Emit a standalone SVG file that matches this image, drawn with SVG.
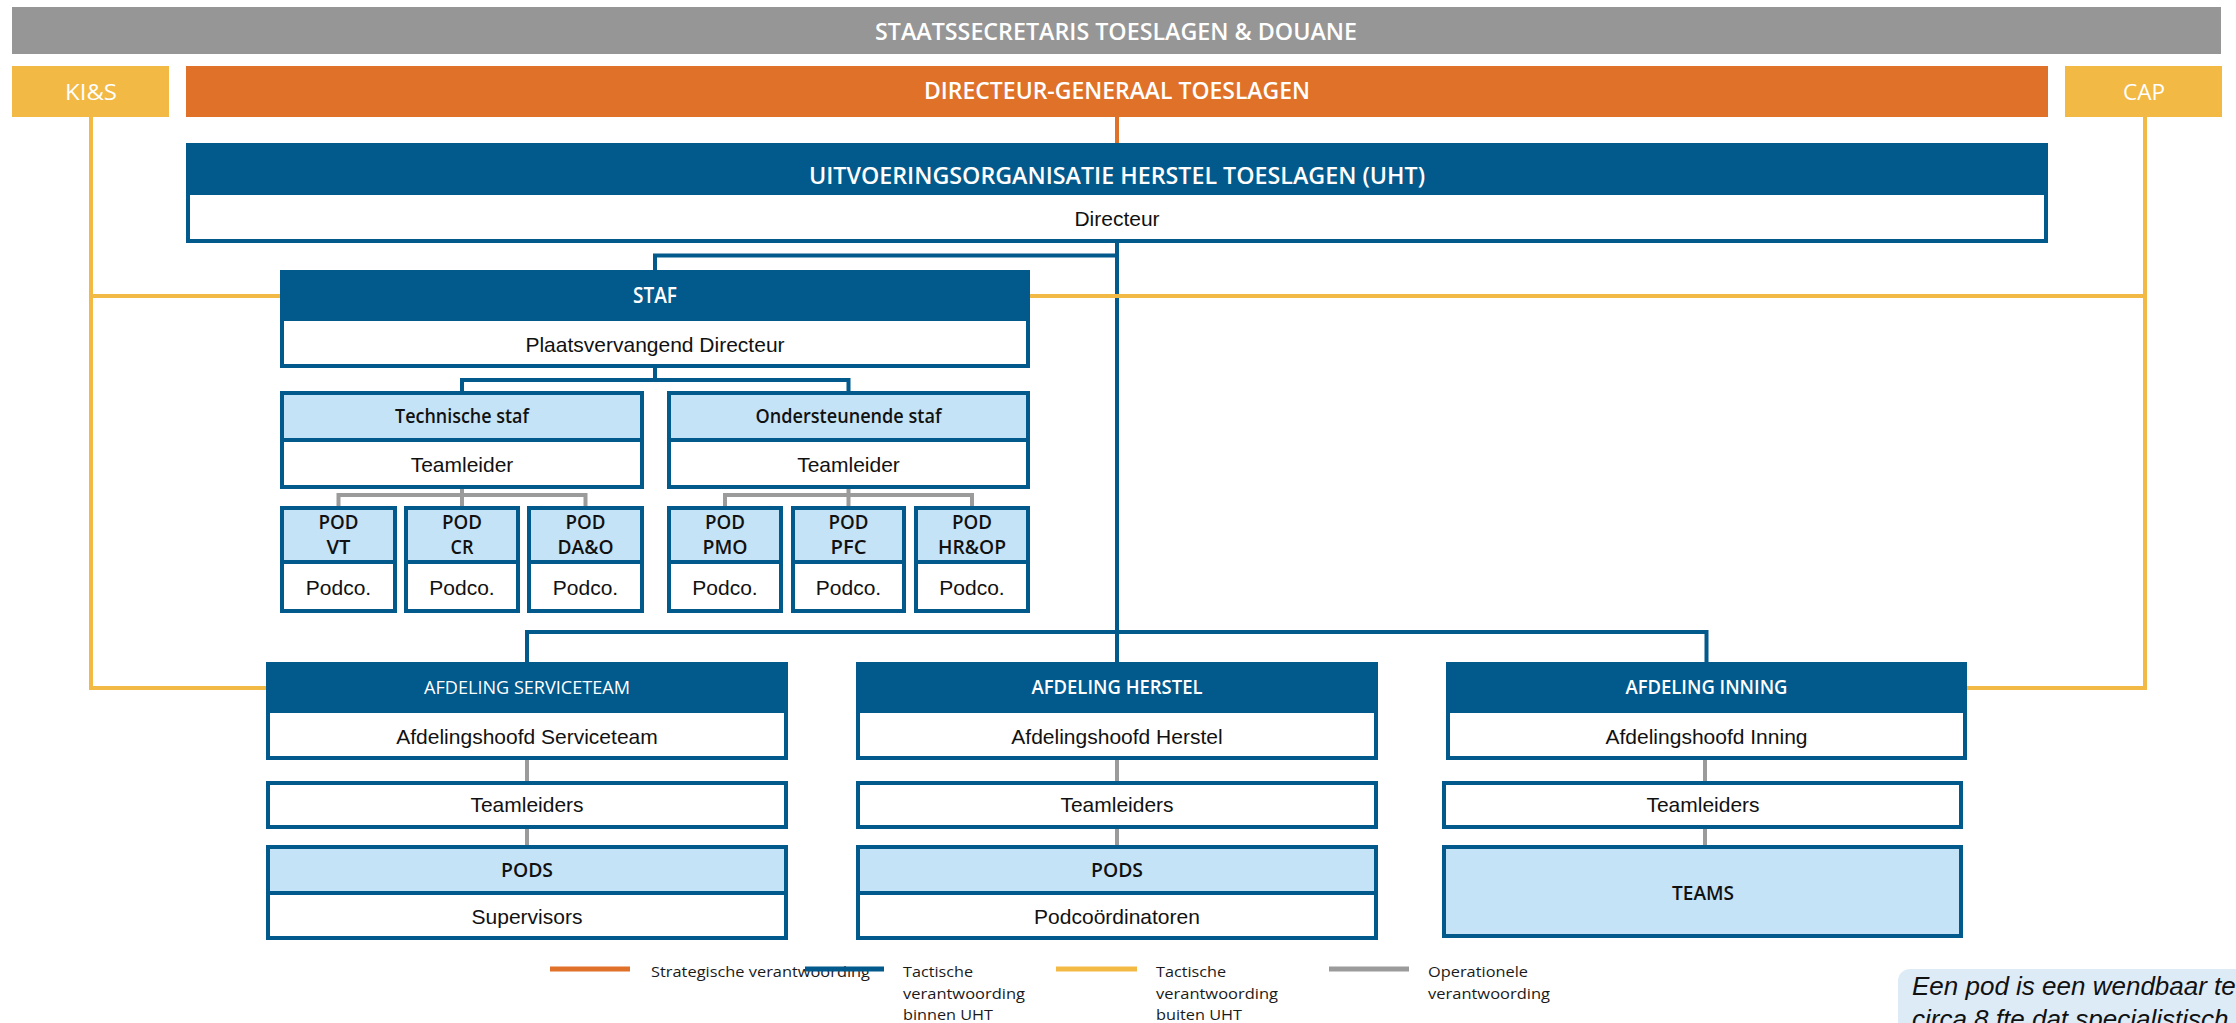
<svg xmlns="http://www.w3.org/2000/svg" width="2236" height="1023" viewBox="0 0 2236 1023">
<style>
.hd{font-family:"Open Sans","Noto Sans",sans-serif;font-weight:600;fill:#ffffff;text-anchor:middle}
.hl{font-family:"Open Sans","Noto Sans",sans-serif;font-weight:400;fill:#ffffff;text-anchor:middle}
.hk{font-family:"Open Sans","Noto Sans",sans-serif;font-weight:600;fill:#111111;text-anchor:middle}
.bd{font-family:"Liberation Sans",Arial,sans-serif;font-size:21px;fill:#111111;text-anchor:middle}
.lg{font-family:"Open Sans","Noto Sans",sans-serif;font-size:15px;fill:#1a1a1a}
.wb{fill:#ffffff;stroke:#01598C;stroke-width:4}
.lb{fill:#C5E3F6;stroke:#01598C;stroke-width:4}
.db{fill:#01598C}
.cb{fill:none;stroke:#01598C;stroke-width:4}
.cy{fill:none;stroke:#F2B945;stroke-width:4}
.cg{fill:none;stroke:#9B9B9B;stroke-width:4}
.co{fill:none;stroke:#E07128;stroke-width:4}
</style>

<g id="connectors">
  <path class="co" d="M1117,117 V143"/>
  <path class="cb" d="M1117,243 V662 M1117,255.5 H655 V270"/>
  <path class="cb" d="M655,368 V380 M462,391 V380 H848.5 V391"/>
  <path class="cb" d="M527,662 V632 H1706.5 V662"/>
  <path class="cy" d="M91,117 V688 H266 M91,296 H280"/>
  <path class="cy" d="M2145,117 V688 H1967 M1030,296 H2145"/>
  <path class="cg" d="M462,489 V506 M338.5,506 V495 H585.5 V506"/>
  <path class="cg" d="M848.5,489 V506 M725,506 V495 H972 V506"/>
  <path class="cg" d="M527,760 V781 M527,829 V845"/>
  <path class="cg" d="M1117,760 V781 M1117,829 V845"/>
  <path class="cg" d="M1705,760 V781 M1705,829 V845"/>
</g>

<g id="staatssecretaris">
  <rect x="12" y="7" width="2209" height="47" fill="#969696"/>
  <text class="hd" x="1116" y="39.5" font-size="24" textLength="482" lengthAdjust="spacingAndGlyphs">STAATSSECRETARIS TOESLAGEN &amp; DOUANE</text>
</g>

<g id="kis">
  <rect x="12" y="66" width="157" height="51" fill="#F2B945"/>
  <text class="hl" x="91" y="100" font-size="22" textLength="52" lengthAdjust="spacingAndGlyphs">KI&amp;S</text>
</g>

<g id="dg">
  <rect x="186" y="66" width="1862" height="51" fill="#E07128"/>
  <text class="hd" x="1117" y="99" font-size="23" textLength="386" lengthAdjust="spacingAndGlyphs">DIRECTEUR-GENERAAL TOESLAGEN</text>
</g>

<g id="cap">
  <rect x="2065" y="66" width="157" height="51" fill="#F2B945"/>
  <text class="hl" x="2144" y="100" font-size="22" textLength="42" lengthAdjust="spacingAndGlyphs">CAP</text>
</g>

<g id="uht">
  <rect class="wb" x="188" y="145" width="1858" height="96"/>
  <rect class="db" x="186" y="143" width="1862" height="52"/>
  <text class="hd" x="1117" y="184" font-size="23" textLength="616" lengthAdjust="spacingAndGlyphs">UITVOERINGSORGANISATIE HERSTEL TOESLAGEN (UHT)</text>
  <text class="bd" x="1117" y="226">Directeur</text>
</g>

<g id="staf">
  <rect class="wb" x="282" y="272" width="746" height="94"/>
  <rect class="db" x="280" y="270" width="750" height="51"/>
  <text class="hd" x="655" y="303" font-size="21" textLength="44" lengthAdjust="spacingAndGlyphs">STAF</text>
  <text class="bd" x="655" y="352">Plaatsvervangend Directeur</text>
</g>

<g id="technische-staf">
  <rect class="wb" x="282" y="393" width="360" height="94"/>
  <rect class="lb" x="282" y="393" width="360" height="47"/>
  <text class="hk" x="462" y="423" font-size="19" textLength="134" lengthAdjust="spacingAndGlyphs">Technische staf</text>
  <text class="bd" x="462" y="472">Teamleider</text>
</g>

<g id="ondersteunende-staf">
  <rect class="wb" x="669" y="393" width="359" height="94"/>
  <rect class="lb" x="669" y="393" width="359" height="47"/>
  <text class="hk" x="848.5" y="423" font-size="19" textLength="186" lengthAdjust="spacingAndGlyphs">Ondersteunende staf</text>
  <text class="bd" x="848.5" y="472">Teamleider</text>
</g>

<g id="pod-vt">
  <rect class="wb" x="282" y="508" width="113" height="103"/>
  <rect class="lb" x="282" y="508" width="113" height="54"/>
  <text class="hk" x="338.5" y="529" font-size="20" textLength="40" lengthAdjust="spacingAndGlyphs">POD</text>
  <text class="hk" x="338.5" y="554" font-size="20" textLength="24" lengthAdjust="spacingAndGlyphs">VT</text>
  <text class="bd" x="338.5" y="595">Podco.</text>
</g>
<g id="pod-cr">
  <rect class="wb" x="406" y="508" width="112" height="103"/>
  <rect class="lb" x="406" y="508" width="112" height="54"/>
  <text class="hk" x="462" y="529" font-size="20" textLength="40" lengthAdjust="spacingAndGlyphs">POD</text>
  <text class="hk" x="462" y="554" font-size="20" textLength="23" lengthAdjust="spacingAndGlyphs">CR</text>
  <text class="bd" x="462" y="595">Podco.</text>
</g>
<g id="pod-dao">
  <rect class="wb" x="529" y="508" width="113" height="103"/>
  <rect class="lb" x="529" y="508" width="113" height="54"/>
  <text class="hk" x="585.5" y="529" font-size="20" textLength="40" lengthAdjust="spacingAndGlyphs">POD</text>
  <text class="hk" x="585.5" y="554" font-size="20" textLength="56" lengthAdjust="spacingAndGlyphs">DA&amp;O</text>
  <text class="bd" x="585.5" y="595">Podco.</text>
</g>
<g id="pod-pmo">
  <rect class="wb" x="669" y="508" width="112" height="103"/>
  <rect class="lb" x="669" y="508" width="112" height="54"/>
  <text class="hk" x="725" y="529" font-size="20" textLength="40" lengthAdjust="spacingAndGlyphs">POD</text>
  <text class="hk" x="725" y="554" font-size="20" textLength="45" lengthAdjust="spacingAndGlyphs">PMO</text>
  <text class="bd" x="725" y="595">Podco.</text>
</g>
<g id="pod-pfc">
  <rect class="wb" x="793" y="508" width="111" height="103"/>
  <rect class="lb" x="793" y="508" width="111" height="54"/>
  <text class="hk" x="848.5" y="529" font-size="20" textLength="40" lengthAdjust="spacingAndGlyphs">POD</text>
  <text class="hk" x="848.5" y="554" font-size="20" textLength="36" lengthAdjust="spacingAndGlyphs">PFC</text>
  <text class="bd" x="848.5" y="595">Podco.</text>
</g>
<g id="pod-hrop">
  <rect class="wb" x="916" y="508" width="112" height="103"/>
  <rect class="lb" x="916" y="508" width="112" height="54"/>
  <text class="hk" x="972" y="529" font-size="20" textLength="40" lengthAdjust="spacingAndGlyphs">POD</text>
  <text class="hk" x="972" y="554" font-size="20" textLength="68" lengthAdjust="spacingAndGlyphs">HR&amp;OP</text>
  <text class="bd" x="972" y="595">Podco.</text>
</g>

<g id="afdeling-serviceteam">
  <rect class="wb" x="268" y="664" width="518" height="94"/>
  <rect class="db" x="266" y="662" width="522" height="51"/>
  <text class="hl" x="527" y="694" font-size="19" textLength="206" lengthAdjust="spacingAndGlyphs">AFDELING SERVICETEAM</text>
  <text class="bd" x="527" y="744">Afdelingshoofd Serviceteam</text>
</g>
<g id="teamleiders-serviceteam">
  <rect class="wb" x="268" y="783" width="518" height="44"/>
  <text class="bd" x="527" y="812">Teamleiders</text>
</g>
<g id="pods-serviceteam">
  <rect class="wb" x="268" y="847" width="518" height="91"/>
  <rect class="lb" x="268" y="847" width="518" height="46"/>
  <text class="hk" x="527" y="877" font-size="20" textLength="52" lengthAdjust="spacingAndGlyphs">PODS</text>
  <text class="bd" x="527" y="924">Supervisors</text>
</g>

<g id="afdeling-herstel">
  <rect class="wb" x="858" y="664" width="518" height="94"/>
  <rect class="db" x="856" y="662" width="522" height="51"/>
  <text class="hd" x="1117" y="694" font-size="19" textLength="171" lengthAdjust="spacingAndGlyphs">AFDELING HERSTEL</text>
  <text class="bd" x="1117" y="744">Afdelingshoofd Herstel</text>
</g>
<g id="teamleiders-herstel">
  <rect class="wb" x="858" y="783" width="518" height="44"/>
  <text class="bd" x="1117" y="812">Teamleiders</text>
</g>
<g id="pods-herstel">
  <rect class="wb" x="858" y="847" width="518" height="91"/>
  <rect class="lb" x="858" y="847" width="518" height="46"/>
  <text class="hk" x="1117" y="877" font-size="20" textLength="52" lengthAdjust="spacingAndGlyphs">PODS</text>
  <text class="bd" x="1117" y="924">Podcoördinatoren</text>
</g>

<g id="afdeling-inning">
  <rect class="wb" x="1448" y="664" width="517" height="94"/>
  <rect class="db" x="1446" y="662" width="521" height="51"/>
  <text class="hd" x="1706.5" y="694" font-size="19" textLength="162" lengthAdjust="spacingAndGlyphs">AFDELING INNING</text>
  <text class="bd" x="1706.5" y="744">Afdelingshoofd Inning</text>
</g>
<g id="teamleiders-inning">
  <rect class="wb" x="1444" y="783" width="517" height="44"/>
  <text class="bd" x="1703" y="812">Teamleiders</text>
</g>
<g id="teams-inning">
  <rect class="lb" x="1444" y="847" width="517" height="89"/>
  <text class="hk" x="1703" y="900" font-size="20" textLength="62" lengthAdjust="spacingAndGlyphs">TEAMS</text>
</g>

<g id="legend">
  <line x1="550" y1="969" x2="630" y2="969" stroke="#E07128" stroke-width="5"/>
  <text class="lg" x="651" y="977" textLength="219" lengthAdjust="spacingAndGlyphs">Strategische verantwoording</text>
  <line x1="805" y1="969" x2="884" y2="969" stroke="#01598C" stroke-width="5"/>
  <text class="lg" x="903" y="977" textLength="70" lengthAdjust="spacingAndGlyphs">Tactische</text>
  <text class="lg" x="903" y="998.5" textLength="122" lengthAdjust="spacingAndGlyphs">verantwoording</text>
  <text class="lg" x="903" y="1020" textLength="90" lengthAdjust="spacingAndGlyphs">binnen UHT</text>
  <line x1="1056" y1="969" x2="1137" y2="969" stroke="#F2B945" stroke-width="5"/>
  <text class="lg" x="1156" y="977" textLength="70" lengthAdjust="spacingAndGlyphs">Tactische</text>
  <text class="lg" x="1156" y="998.5" textLength="122" lengthAdjust="spacingAndGlyphs">verantwoording</text>
  <text class="lg" x="1156" y="1020" textLength="86" lengthAdjust="spacingAndGlyphs">buiten UHT</text>
  <line x1="1329" y1="969" x2="1409" y2="969" stroke="#9B9B9B" stroke-width="5"/>
  <text class="lg" x="1428" y="977" textLength="100" lengthAdjust="spacingAndGlyphs">Operationele</text>
  <text class="lg" x="1428" y="998.5" textLength="122" lengthAdjust="spacingAndGlyphs">verantwoording</text>
</g>

<g id="note">
  <rect x="1898" y="969" width="400" height="100" rx="12" fill="#DDEBF7"/>
  <text x="1912" y="995" font-family="'Liberation Sans',Arial,sans-serif" font-style="italic" font-size="26" fill="#111111">Een pod is een wendbaar te</text>
  <text x="1912" y="1028" font-family="'Liberation Sans',Arial,sans-serif" font-style="italic" font-size="26" fill="#111111">circa 8 fte dat specialistisch</text>
</g>
</svg>
